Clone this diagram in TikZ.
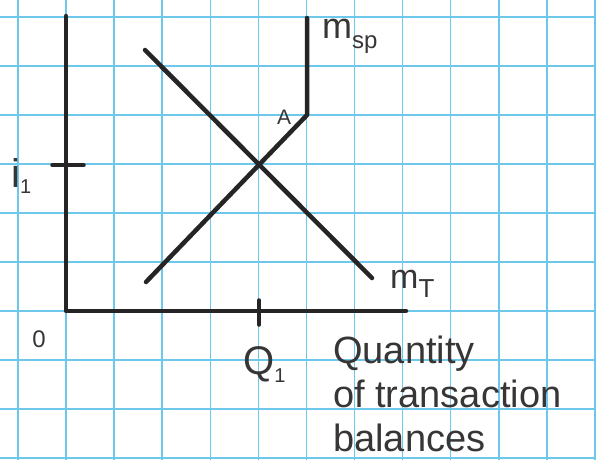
\documentclass[tikz,border=0pt]{standalone}
\usepackage{fontspec}
\setmainfont{Liberation Sans}
\definecolor{gridblue}{RGB}{110,200,236}
\definecolor{inkc}{RGB}{38,36,36}
\definecolor{textc}{RGB}{55,53,53}
\begin{document}
\begin{tikzpicture}[x=1pt,y=-1pt,
  gridline/.style={draw=gridblue,line width=1.5pt},
  ink/.style={draw=inkc,line width=4.5pt,line cap=round,line join=round},
  tick/.style={draw=inkc,line width=3.5pt,line cap=round},
  lbl/.style={text=textc,inner sep=0pt}]
\fill[white] (0,0) rectangle (596,460);
\useasboundingbox (0,0) rectangle (596,460);
\foreach \i in {0,...,12} \draw[gridline] ({18+48.08*\i},0) -- ({18+48.08*\i},460);
\foreach \j in {0,...,9} \draw[gridline] (0,{17+49*\j}) -- (596,{17+49*\j});
% axes
\coordinate (ytop) at (66,16);
\coordinate (O) at (66,311);
\coordinate (xend) at (406,311);
\draw[ink] (ytop) -- (O) -- (xend);
% ticks
\coordinate (tia) at (52,165);
\coordinate (tib) at (84,165);
\coordinate (tqa) at (259,300);
\coordinate (tqb) at (259,325);
\draw[tick] (tia) -- (tib);
\draw[tick] (tqa) -- (tqb);
% MT curve
\coordinate (mta) at (145,50);
\coordinate (mtb) at (372,278);
\draw[ink] (mta) -- (mtb);
% MSP curve
\coordinate (msa) at (146,282);
\coordinate (A) at (307,115);
\coordinate (msc) at (307,18);
\draw[ink] (msa) -- (A) -- (msc);
% labels
\node[lbl,font=\fontsize{36}{36}\selectfont,anchor=base west] (lmsp) at (322,38) {m\raisebox{-10pt}{\fontsize{24}{24}\selectfont sp}};
\node[lbl,font=\fontsize{21}{21}\selectfont] (lA) at (284,117) {A};
\node[lbl,font=\fontsize{40}{40}\selectfont,anchor=base west] (li) at (11,187) {i\raisebox{-6pt}{\fontsize{20}{20}\selectfont 1}};
\node[lbl,font=\fontsize{24}{24}\selectfont] (l0) at (39,339) {0};
\node[lbl,font=\fontsize{40}{40}\selectfont,anchor=base west] (lQ) at (243,374) {Q\raisebox{-8pt}{\fontsize{20}{20}\selectfont 1}};
\node[lbl,font=\fontsize{34}{34}\selectfont,anchor=base west] (lmt) at (390,288) {m\raisebox{-9pt}{\fontsize{26}{26}\selectfont T}};
\node[lbl,font=\fontsize{38}{44}\selectfont,align=left,anchor=north west] (lq) at (333,336) {Quantity\\of transaction\\balances};
\end{tikzpicture}
\end{document}
